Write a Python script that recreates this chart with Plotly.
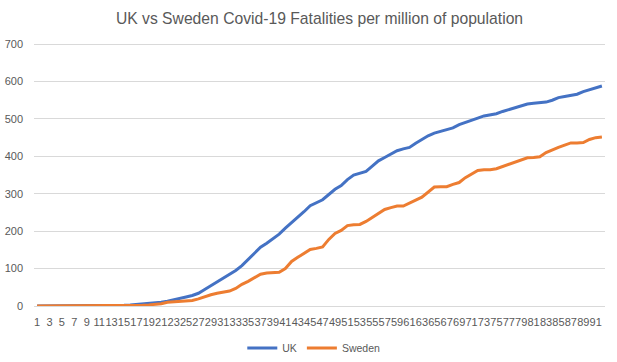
import plotly.graph_objects as go

days = list(range(1, 93))

uk = [0, 0, 0, 0, 0, 0, 0, 0, 0, 0, 0, 0,
      1, 2, 2, 3, 4, 5, 6, 8, 10, 13, 16, 20, 24, 28, 34, 44, 54, 65,
      75, 85, 95, 108, 125, 142, 157, 168, 180, 192, 208, 222, 236, 252, 268,
      276, 284, 298, 312, 322, 338, 350, 356, 360, 374, 388, 397, 407, 415, 420,
      424, 435, 446, 455, 462, 467, 471, 476, 485, 490, 495, 502, 508, 511, 514,
      520, 525, 530, 536, 540, 542, 543, 545, 550, 557, 560, 563, 566, 573, 578,
      584, 588]

sweden = [0, 0, 0, 0, 0, 0, 0, 0, 0, 0, 0, 0, 0, 0,
          0, 1, 1, 2, 3, 4, 6, 10, 11, 12, 12, 15, 19, 25, 30, 34,
          37, 40, 47, 58, 66, 76, 85, 88, 89, 90, 100, 119, 130, 140, 151,
          154, 158, 178, 194, 202, 215, 217, 218, 226, 236, 247, 258, 263, 267, 267,
          276, 283, 291, 305, 318, 319, 319, 325, 330, 343, 352, 362, 364, 364, 367,
          373, 380, 384, 390, 396, 397, 399, 410, 418, 424, 430, 436, 436, 437, 445,
          450, 452]

tick_vals = [d for d in days if d % 2 == 1]
tick_text = [str(d) for d in tick_vals]
y_ticks = [0, 100, 200, 300, 400, 500, 600, 700]

title_text = "UK vs Sweden Covid-19 Fatalities per million of population"
FONT = "Liberation Sans"
GREY = "#595959"

fig = go.Figure()
fig.add_trace(go.Scatter(x=days, y=uk, name="UK", mode="lines",
                         line=dict(color="#4472C4", width=3)))
fig.add_trace(go.Scatter(x=days, y=sweden, name="Sweden", mode="lines",
                         line=dict(color="#ED7D31", width=3)))

fig.update_layout(
    width=617, height=362,
    margin=dict(l=34, r=12, t=43, b=56, autoexpand=False),
    paper_bgcolor="white", plot_bgcolor="white",
    font=dict(family=FONT, color=GREY, size=11),
    title=dict(text=title_text, xref="paper", x=0.5, xanchor="center",
               y=0.95, yanchor="middle",
               font=dict(family=FONT, size=15.7, color=GREY)),
    showlegend=True,
    legend=dict(orientation="h", x=0.49, xanchor="center", yref="container",
                y=0.039, yanchor="middle",
                font=dict(size=10.5, color=GREY), itemwidth=30),
    xaxis=dict(range=[0.5, 92.5], tickmode="array", tickvals=tick_vals, ticktext=tick_text,
               tickangle=0, showgrid=False, zeroline=False, showline=False,
               ticks="", ticklabelstandoff=8, automargin=False,
               tickfont=dict(size=11, color=GREY)),
    yaxis=dict(range=[0, 703], tickmode="array", tickvals=y_ticks,
               showgrid=True, gridcolor="#D9D9D9", gridwidth=1,
               zeroline=True, zerolinecolor="#D9D9D9", zerolinewidth=1,
               showline=False, ticks="", ticklabelstandoff=10, automargin=False,
               tickfont=dict(size=11, color=GREY)),
)

fig.write_html("out.html", config={"displayModeBar": False},
               post_script="document.body.style.margin='0px';")
